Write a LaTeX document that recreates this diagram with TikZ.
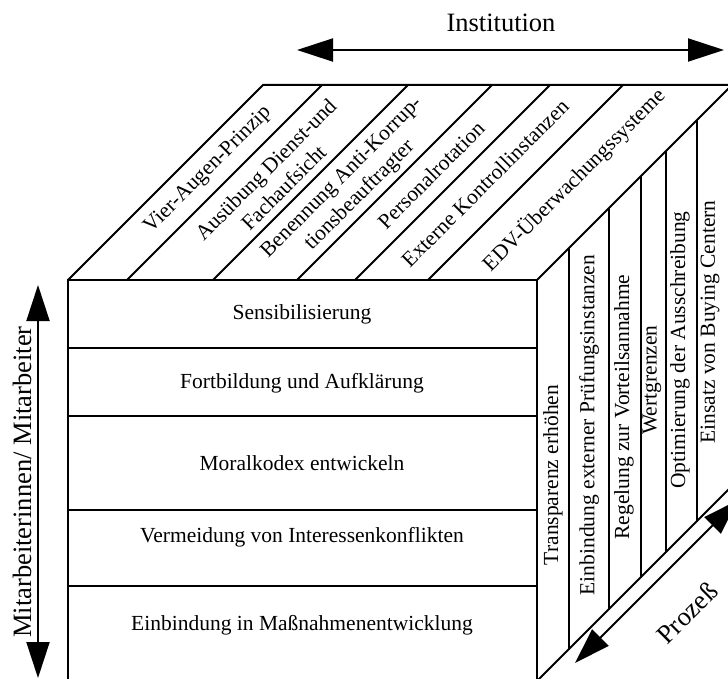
\documentclass[tikz,border=0pt]{standalone}
\usepackage{fontspec}
\setmainfont{Liberation Serif}
\usetikzlibrary{arrows.meta}

\begin{document}
\begin{tikzpicture}
[x=1pt, y=-1pt, line width=2pt,
>={Triangle[length=36pt,width=23pt]},
side text/.style={font=\fontsize{21.5}{25.5}\selectfont, inner sep=0pt, align=center},
axis text/.style={font=\fontsize{26.5}{30}\selectfont, inner sep=0pt}]

  \useasboundingbox (0,0) rectangle (728,679);
  \clip (0,0) rectangle (728,679);

  % front face
  \draw (68,280) rectangle (537,681);
  \foreach \y in {348,416,510,586}
    \draw (68,\y) -- (537,\y);

  % top face
  \draw (68,280) -- ++(195,-195) -- (732,85) -- (537,280);
  \foreach \x in {127,213,297,355,428}
    \draw (\x,280) -- ++(195,-195);

  % right face
  \draw (537,681) -- ++(195,-195);
  \foreach \x in {569,609,641,666,697}
    \draw ({\x},{817-\x}) -- ({\x},{1218-\x});

  \node[side text] (sens) at (302,314) {Sensibilisierung};
  \node[side text] (fortb) at (302,383) {Fortbildung und Aufklärung};
  \node[side text] (moral) at (302,463) {Moralkodex entwickeln};
  \node[side text] (verm) at (302,537) {Vermeidung von Interessenkonflikten};
  \node[side text] (einb) at (302,625) {Einbindung in Maßnahmenentwicklung};

  \node[side text, rotate=45] (vier) at (208,170) {Vier-Augen-Prinzip};
  \node[side text, rotate=45] (aufsicht) at (274.5,178.5) {Ausübung Dienst-und\\Fachaufsicht};
  \node[side text, rotate=45] (korrup) at (351,187) {Benennung Anti-Korrup-\\tionsbeauftragter};
  \node[side text, rotate=45] (rotat) at (431,175) {Personalrotation};
  \node[side text, rotate=45] (kontr) at (485,183) {Externe Kontrollinstanzen};
  \node[side text, rotate=45] (edv) at (574,180) {EDV-Überwachungssysteme};

  \node[side text, rotate=90] (transp) at (553,475) {Transparenz erhöhen};
  \node[side text, rotate=90] (pruef) at (589,425) {Einbindung externer Prüfungsinstanzen};
  \node[side text, rotate=90] (vorteil) at (624,407) {Regelung zur Vorteilsannahme};
  \node[side text, rotate=90] (wert) at (652,380) {Wertgrenzen};
  \node[side text, rotate=90] (ausschr) at (680,350) {Optimierung der Ausschreibung};
  \node[side text, rotate=90] (buying) at (710,322) {Einsatz von Buying Centern};

  % axes
  \coordinate (inst w) at (297,50);
  \coordinate (inst e) at (724,50);
  \draw[<->] (inst w) -- (inst e);
  \node[axis text] (inst) at (501,23) {Institution};

  \coordinate (ma n) at (38,285);
  \coordinate (ma s) at (38,678);
  \draw[<->] (ma n) -- (ma s);
  \node[axis text, rotate=90] (ma) at (22,482) {Mitarbeiterinnen/ Mitarbeiter};

  \coordinate (proz sw) at (575,663);
  \coordinate (proz ne) at (738,500);
  \draw[<->] (proz sw) -- (proz ne);
  \node[axis text, rotate=45] (proz) at (687,613) {Prozeß};

\end{tikzpicture}
\end{document}
